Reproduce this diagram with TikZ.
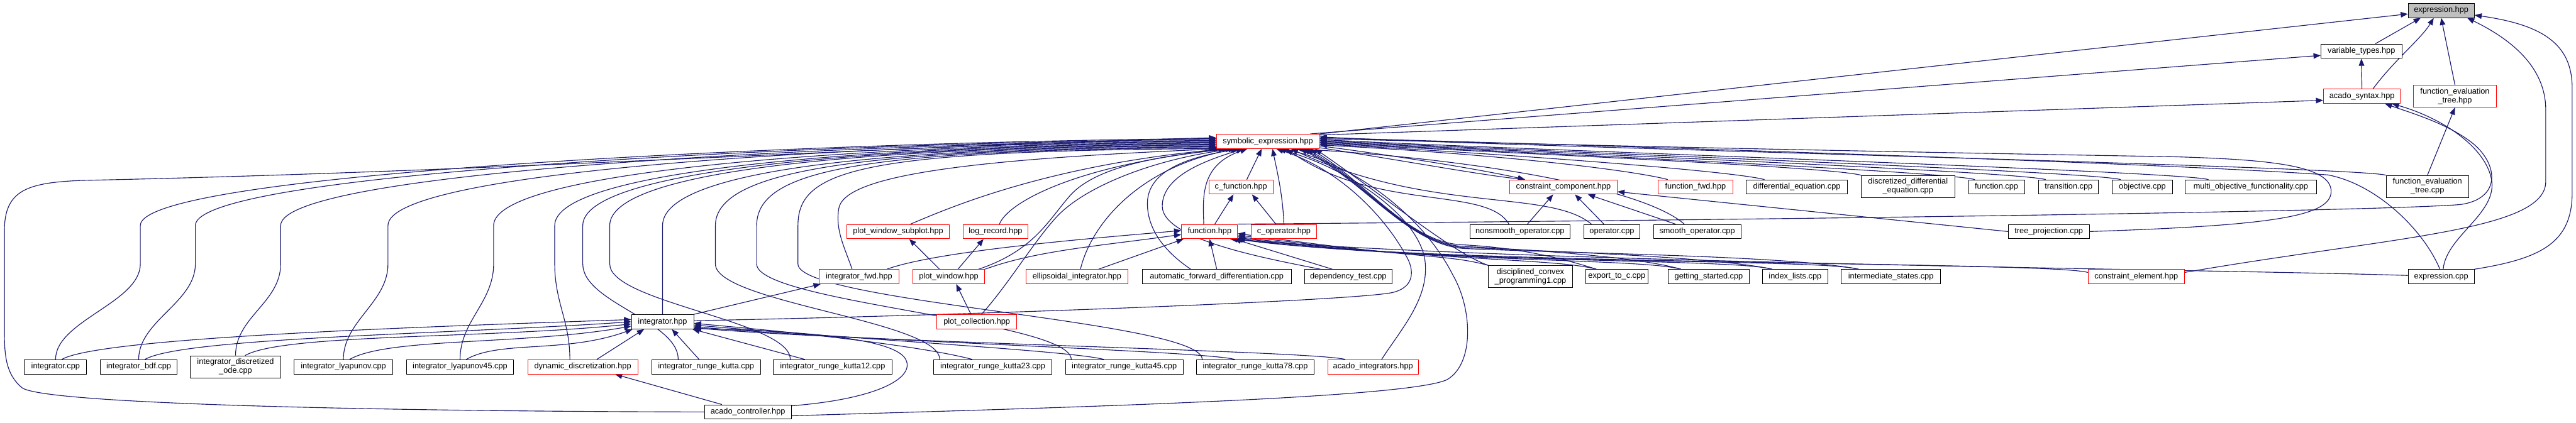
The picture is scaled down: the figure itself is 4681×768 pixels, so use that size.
\documentclass[tikz,border=0pt]{standalone}
\usepackage{fontspec}
\setmainfont{Liberation Sans}
\usetikzlibrary{arrows.meta,calc}
\definecolor{edgec}{RGB}{25,25,112}
\definecolor{hgrey}{RGB}{191,191,191}
\pgfdeclarelayer{bgfill}
\pgfdeclarelayer{edges}
\pgfsetlayers{bgfill,edges,main}
\newcommand{\nodefnt}{\fontsize{14.6}{16}\selectfont}
\tikzset{
 nd/.style={draw=black, line width=1.1pt, fill=white, minimum height=26, inner sep=0pt, font=\nodefnt, align=center},
 rd/.style={nd, draw=red},
 twol/.style={minimum height=40},
 edg/.style={draw=edgec, line width=1.3pt, -{Triangle[length=13pt,width=10pt]}},
 cv/.style n args={4}{to path={.. controls ($(\tikztostart)+(#1:#3)$) and ($(\tikztotarget)+(#2:#4)$) .. (\tikztotarget)}},
 rb/.style={cv={165}{-3}{60}{350}},
 fb/.style={cv={165}{-8}{80}{350}},
 ibr/.style={cv={165}{-5}{60}{300}},
 lup/.style={to path={.. controls ($(\tikztostart)+(0,70)$) and (#1,-550) .. (#1,-480) -- (#1,-410) .. controls (#1,-310) and ($(\tikztotarget)+(-650,-4)$) .. (\tikztotarget)}},
}
\begin{document}
\begin{tikzpicture}[x=1pt,y=1pt]
\useasboundingbox (0,0) rectangle (4681,-768);
\begin{pgfonlayer}{bgfill}\fill[white] (0,0) rectangle (4681,-768);\end{pgfonlayer}
% rank 0-3
\node[nd,fill=hgrey,minimum width=120] (exh) at (4436,-19) {expression.hpp};
\node[nd,minimum width=147] (vth) at (4291,-93) {variable\_types.hpp};
\node[rd,minimum width=140] (ash) at (4292,-175) {acado\_syntax.hpp};
\node[rd,twol,minimum width=151] (feth) at (4461,-175) {function\_evaluation\\\_tree.hpp};
\node[rd,minimum width=187] (seh) at (2304,-257) {symbolic\_expression.hpp};
% rank 4
\node[rd,minimum width=117] (cfh) at (2255,-340) {c\_function.hpp};
\node[rd,minimum width=195] (cch) at (2841,-340) {constraint\_component.hpp};
\node[rd,minimum width=135] (ffh) at (3081,-340) {function\_fwd.hpp};
\node[nd,minimum width=184] (dec) at (3265,-340) {differential\_equation.cpp};
\node[nd,twol,minimum width=170] (ddec) at (3467,-339) {discretized\_differential\\\_equation.cpp};
\node[nd,minimum width=102] (fc) at (3628,-340) {function.cpp};
\node[nd,minimum width=109] (tc) at (3759,-340) {transition.cpp};
\node[nd,minimum width=109] (oc) at (3893,-340) {objective.cpp};
\node[nd,minimum width=238] (moc) at (4090,-340) {multi\_objective\_functionality.cpp};
\node[nd,twol,minimum width=150] (fetc) at (4411,-339) {function\_evaluation\\\_tree.cpp};
% rank 5
\node[rd,minimum width=186] (pwsh) at (1632,-421) {plot\_window\_subplot.hpp};
\node[rd,minimum width=118] (lrh) at (1809,-421) {log\_record.hpp};
\node[rd,minimum width=102] (fh) at (2198,-421) {function.hpp};
\node[rd,minimum width=118] (coh) at (2333,-421) {c\_operator.hpp};
\node[nd,minimum width=181] (noc) at (2762,-421) {nonsmooth\_operator.cpp};
\node[nd,minimum width=102] (opc) at (2929,-421) {operator.cpp};
\node[nd,minimum width=159] (soc) at (3084,-421) {smooth\_operator.cpp};
\node[nd,minimum width=147] (tpc) at (3723,-421) {tree\_projection.cpp};
% rank 6
\node[rd,minimum width=145] (ifh) at (1561,-503) {integrator\_fwd.hpp};
\node[rd,minimum width=131] (pwh) at (1724,-503) {plot\_window.hpp};
\node[rd,minimum width=186] (eih) at (1957,-503) {ellipsoidal\_integrator.hpp};
\node[nd,minimum width=271] (afdc) at (2211,-503) {automatic\_forward\_differentiation.cpp};
\node[nd,minimum width=159] (dtc) at (2450,-503) {dependency\_test.cpp};
\node[nd,twol,minimum width=152] (dcpc) at (2781,-503) {disciplined\_convex\\\_programming1.cpp};
\node[nd,minimum width=114] (etcc) at (2938,-503) {export\_to\_c.cpp};
\node[nd,minimum width=148] (gsc) at (3105,-503) {getting\_started.cpp};
\node[nd,minimum width=118] (ilc) at (3262,-503) {index\_lists.cpp};
\node[nd,minimum width=180] (isc) at (3436,-503) {intermediate\_states.cpp};
\node[rd,minimum width=175] (ceh) at (3882,-503) {constraint\_element.hpp};
\node[nd,minimum width=120] (exc) at (4436,-503) {expression.cpp};
% rank 7
\node[nd,minimum width=113] (ih) at (1204,-585) {integrator.hpp};
\node[rd,minimum width=145] (pch) at (1775,-585) {plot\_collection.hpp};
% rank 8
\node[nd,minimum width=113] (ic) at (101,-667) {integrator.cpp};
\node[nd,minimum width=139] (ibc) at (252,-667) {integrator\_bdf.cpp};
\node[nd,twol,minimum width=164] (idoc) at (428,-667) {integrator\_discretized\\\_ode.cpp};
\node[nd,minimum width=179] (ilyc) at (624,-667) {integrator\_lyapunov.cpp};
\node[nd,minimum width=195] (ily45c) at (836,-667) {integrator\_lyapunov45.cpp};
\node[rd,minimum width=200] (ddh) at (1059,-667) {dynamic\_discretization.hpp};
\node[nd,minimum width=198] (irkc) at (1283,-667) {integrator\_runge\_kutta.cpp};
\node[nd,minimum width=215] (irk12c) at (1513,-667) {integrator\_runge\_kutta12.cpp};
\node[nd,minimum width=215] (irk23c) at (1804,-667) {integrator\_runge\_kutta23.cpp};
\node[nd,minimum width=214] (irk45c) at (2043,-667) {integrator\_runge\_kutta45.cpp};
\node[nd,minimum width=214] (irk78c) at (2281,-667) {integrator\_runge\_kutta78.cpp};
\node[rd,minimum width=165] (aih) at (2495,-667) {acado\_integrators.hpp};
% rank 9
\node[nd,minimum width=158] (ach) at (1359,-749) {acado\_controller.hpp};

\begin{pgfonlayer}{edges}
% into expression.hpp
\draw[edg] (seh.north east) -- (exh.186);
\draw[edg] (vth.28) -- (exh.200);
\draw[edg] (ash.34) .. controls (4350,-110) and (4400,-70) .. (exh.225);
\draw[edg] (feth.north) -- (exh.south);
\draw[edg] (ceh.5) .. controls (4350,-430) and (4626,-420) .. (4626,-330) -- (4626,-200) .. controls (4626,-120) and (4560,-70) .. (exh.-16);
\draw[edg] (exc.north east) .. controls (4620,-470) and (4674,-440) .. (4674,-350) -- (4674,-160) .. controls (4674,-80) and (4620,-45) .. (exh.-8);
% into variable_types / acado_syntax
\draw[edg] (seh.10) -- (vth.186);
\draw[edg] (ash.north) -- (vth.south);
\draw[edg] (seh.7) -- (ash.186);
\draw[edg] (fh.north east) .. controls (3200,-400) and (4300,-385) .. (4470,-372) .. controls (4545,-362) and (4540,-300) .. (4495,-262) .. controls (4450,-225) and (4380,-205) .. (ash.-18);
\draw[edg] (exc.75) .. controls (4445,-430) and (4535,-390) .. (4528,-330) .. controls (4520,-270) and (4440,-215) .. (ash.-14);
\draw[edg] (fetc.north) -- (feth.south);
% left group into symbolic_expression
\draw[edg] (ach.west) .. controls (700,-748) and (80,-735) .. (40,-705) .. controls (10,-680) and (8,-645) .. (8,-600) -- (8,-420) .. controls (8,-345) and (50,-332) .. (150,-328) .. controls (900,-312) and (1700,-262) .. (seh.176);
\draw[edg] (ic.north) to[lup=255] (seh.177);
\draw[edg] (ibc.north) to[lup=355] (seh.178);
\draw[edg] (idoc.north) to[lup=510] (seh.179);
\draw[edg] (ilyc.north) to[lup=705] (seh.180);
\draw[edg] (ily45c.north) to[lup=897] (seh.181);
\draw[edg] (ddh.150) to[lup=1008] (seh.182);
\draw[edg] (irkc.165) to[lup=1059] (seh.183);
\draw[edg] (irk12c.170) to[lup=1108] (seh.184);
\draw[edg] (ih.north) -- (1204,-410) .. controls (1204,-315) and (1560,-268) .. (seh.185);
\draw[edg] (irk23c.172) to[lup=1300] (seh.186);
\draw[edg] (irk45c.172) to[lup=1375] (seh.187);
\draw[edg] (irk78c.172) to[lup=1450] (seh.188);
% middle group into symbolic_expression
\draw[edg] (ifh.133) .. controls (1535,-450) and (1518,-420) .. (1524,-380) .. controls (1532,-320) and (1750,-290) .. (seh.189);
\draw[edg] (pwsh.31) .. controls (1720,-380) and (1900,-300) .. (seh.190);
\draw[edg] (lrh.62) .. controls (1830,-370) and (1950,-300) .. (seh.191);
\draw[edg] (pwh.14) .. controls (1880,-455) and (1905,-400) .. (1945,-355) .. controls (1990,-305) and (2100,-283) .. (seh.192);
\draw[edg] (pch.58) .. controls (1830,-520) and (1875,-445) .. (1915,-400) .. controls (1965,-340) and (2100,-288) .. (seh.193);
\draw[edg] (eih.65) .. controls (1985,-400) and (2080,-300) .. (seh.194);
\draw[edg] (afdc.164) .. controls (2120,-460) and (2085,-420) .. (2085,-370) .. controls (2085,-310) and (2160,-285) .. (seh.195);
\draw[edg] (dtc.165) .. controls (2300,-470) and (2112,-435) .. (2112,-375) .. controls (2112,-320) and (2190,-292) .. (seh.197);
\draw[edg] (fh.128) .. controls (2186,-360) and (2180,-300) .. (seh.200);
\draw[edg] (cfh.52) -- (seh.230);
\draw[edg] (coh.north) .. controls (2331,-350) and (2318,-300) .. (seh.-58);
\draw[edg] (fh.55) -- (cfh.225);
\draw[edg] (coh.137) -- (cfh.-34);
% symbolic -> constraint_component (as drawn)
\draw[edg] (seh.-5) .. controls (2550,-285) and (2700,-310) .. (cch.169);
\draw[edg] (seh.-7) .. controls (2550,-292) and (2690,-318) .. (cch.169);
% plot / integrator links
\draw[edg] (ih.north east) -- (ifh.191);
\draw[edg] (pch.128) -- (pwh.-45);
\draw[edg] (pwh.141) -- (pwsh.-34);
\draw[edg] (pwh.39) -- (lrh.212);
% into function.hpp
\draw[edg] (ifh.15) to[cv={20}{185}{100}{150}] (fh.178);
\draw[edg] (pwh.north east) to[cv={20}{188}{100}{150}] (fh.186);
\draw[edg] (eih.19) -- (fh.196);
\draw[edg] (afdc.north) -- (fh.south);
\draw[edg] (dtc.155) -- (fh.-17);
\draw[edg] (dcpc.165) to[fb] (fh.-4);
\draw[edg] (etcc.160) to[fb] (fh.-7);
\draw[edg] (gsc.165) to[fb] (fh.-10);
\draw[edg] (ilc.162) to[fb] (fh.-12);
\draw[edg] (isc.167) to[fb] (fh.-14);
\draw[edg] (ceh.175) to[fb] (fh.-16);
\draw[edg] (exc.178) to[cv={178}{-5}{300}{500}] (fh.-20);
% right group into symbolic_expression
\draw[edg] (ffh.165) to[rb] (seh.-4);
\draw[edg] (dec.167) to[rb] (seh.-3);
\draw[edg] (ddec.north west) to[rb] (seh.-2);
\draw[edg] (fc.161) to[rb] (seh.-1);
\draw[edg] (tc.162) to[rb] (seh.0);
\draw[edg] (oc.161) to[rb] (seh.1);
\draw[edg] (moc.170) to[rb] (seh.2);
\draw[edg] (fetc.north west) to[rb] (seh.5);
\draw[edg] (tpc.east) .. controls (4120,-410) and (4236,-395) .. (4236,-348) .. controls (4236,-300) and (4120,-290) .. (3950,-285) .. controls (3200,-272) and (2800,-262) .. (seh.3);
\draw[edg] (exc.100) .. controls (4405,-420) and (4320,-335) .. (4230,-318) .. controls (3900,-295) and (2900,-264) .. (seh.4);
% operators
\draw[edg] (noc.146) to[cv={120}{-35}{80}{200}] (seh.-22);
\draw[edg] (opc.160) to[cv={140}{-25}{100}{280}] (seh.-18);
\draw[edg] (soc.150) .. controls (2990,-345) and (2700,-290) .. (seh.-15);
\draw[edg] (noc.45) -- (cch.216);
\draw[edg] (opc.137) -- (cch.-33);
\draw[edg] (soc.161) -- (cch.-17);
\draw[edg] (tpc.west) -- (cch.-5);
% rank 6 bundle into symbolic_expression
\draw[edg] (dcpc.165) .. controls (2640,-460) and (2520,-360) .. (seh.-9);
\draw[edg] (etcc.160) .. controls (2840,-470) and (2760,-450) .. (2655,-445) .. controls (2560,-440) and (2480,-330) .. (seh.-10);
\draw[edg] (gsc.165) .. controls (2980,-468) and (2800,-455) .. (2658,-448) .. controls (2560,-442) and (2480,-330) .. (seh.-11);
\draw[edg] (ilc.162) .. controls (3120,-468) and (2850,-458) .. (2660,-450) .. controls (2560,-444) and (2480,-330) .. (seh.-12);
\draw[edg] (isc.167) .. controls (3250,-465) and (2900,-462) .. (2662,-452) .. controls (2560,-446) and (2480,-330) .. (seh.-13);
% long routes from below
\draw[edg] (ih.2) .. controls (1700,-575) and (2450,-548) .. (2530,-532) .. controls (2572,-522) and (2570,-490) .. (2555,-465) .. controls (2520,-400) and (2440,-310) .. (seh.-42);
\draw[edg] (aih.41) .. controls (2545,-600) and (2595,-545) .. (2590,-480) .. controls (2585,-400) and (2460,-310) .. (seh.-35);
\draw[edg] (ach.-5) .. controls (1900,-742) and (2560,-725) .. (2630,-690) .. controls (2680,-660) and (2675,-560) .. (2640,-500) .. controls (2590,-400) and (2470,-300) .. (seh.-28);
% into integrator.hpp
\draw[edg] (ic.50) to[cv={30}{182}{80}{380}] (ih.176);
\draw[edg] (ibc.50) to[cv={30}{184}{80}{320}] (ih.180);
\draw[edg] (idoc.50) to[cv={30}{186}{80}{260}] (ih.184);
\draw[edg] (ilyc.50) to[cv={30}{190}{80}{200}] (ih.188);
\draw[edg] (ily45c.50) to[cv={30}{200}{70}{130}] (ih.194);
\draw[edg] (ddh.28) -- (ih.202);
\draw[edg] (irkc.133) -- (ih.-39);
\draw[edg] (irk12c.165) -- (ih.-14);
\draw[edg] (irk23c.160) to[ibr] (ih.-3);
\draw[edg] (irk45c.160) to[ibr] (ih.-6);
\draw[edg] (irk78c.160) to[ibr] (ih.-9);
\draw[edg] (aih.165) to[ibr] (ih.-11);
\draw[edg] (ach.8) .. controls (1600,-725) and (1665,-685) .. (1645,-652) .. controls (1625,-620) and (1500,-603) .. (ih.-12);
\draw[edg] (ach.164) -- (ddh.-13);
\end{pgfonlayer}
\end{tikzpicture}
\end{document}
